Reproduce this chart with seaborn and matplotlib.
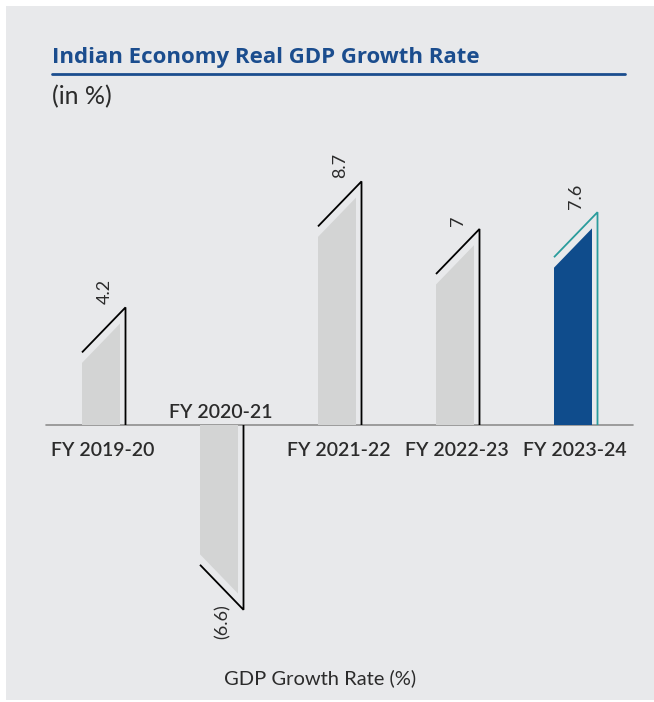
import matplotlib
matplotlib.use("Agg")
import matplotlib.pyplot as plt
import numpy as np
import pandas as pd
import seaborn as sns
from matplotlib.patches import Rectangle, Polygon
from matplotlib.lines import Line2D

# Real GDP growth, India (in %)
years = ["FY 2019-20", "FY 2020-21", "FY 2021-22", "FY 2022-23", "FY 2023-24"]
growth = [4.2, -6.6, 8.7, 7.0, 7.6]
value_labels = ["4.2", "(6.6)", "8.7", "7", "7.6"]
bar_kind = ["past", "past", "past", "past", "latest"]

# colours
PANEL = "#e8e9eb"
GREY_FILL = "#d3d4d4"
NAVY = "#0f4c8c"
TEAL = "#2a9c9c"
TITLE_BLUE = "#1b4d8e"
TEXT = "#2b2b2b"
AXIS = "#8e8e8e"

# canvas geometry (pixels)
W, H = 654, 702
PX_PER_UNIT = 28.0      # vertical pixels per percentage point
X_STEP = 118.0          # pixels between neighbouring bars
X0 = 101.0              # pixel x of the first bar centre
BASE_Y = 425.0          # pixel y (from top) of the zero line
hx = 1.0 / X_STEP       # one pixel in x data units
py = 1.0 / PX_PER_UNIT  # one pixel in y data units

sns.set_theme(style="white")
plt.rcParams["font.family"] = ["Lato", "DejaVu Sans"]

fig = plt.figure(figsize=(W / 100, H / 100), dpi=100)
fig.patch.set_facecolor("white")
fig.patches.append(Rectangle((6 / W, 2 / H), (W - 6) / W, (H - 8) / H,
                             transform=fig.transFigure, facecolor=PANEL,
                             edgecolor="none", zorder=-5))

ax = fig.add_axes([0, 0, 1, 1])
ax.set_zorder(1)
df = pd.DataFrame({"year": years, "growth": growth, "kind": bar_kind})
sns.barplot(data=df, x="year", y="growth", hue="kind",
            palette={"past": GREY_FILL, "latest": NAVY},
            width=0.32, dodge=False, saturation=1, legend=False, ax=ax,
            edgecolor="none", linewidth=0)

ax.set_xlim(-X0 / X_STEP, (W - X0) / X_STEP)
ax.set_ylim((BASE_Y - H) / PX_PER_UNIT, BASE_Y / PX_PER_UNIT)
ax.patch.set_visible(False)
ax.axis("off")

# zero line
ax.axhline(0, xmin=46 / W, xmax=633 / W, color=AXIS, lw=1.2, zorder=1)

HALF = 19.0    # half of the filled bar width (px)
LINE_DX = 24.5  # offset of the outline stroke from the bar centre (px)
SLANT = 45.0   # vertical drop of the slanted cap (px)
GAP = 10.5     # gap between cap stroke and fill (px)

for patch in list(ax.patches):
    i = int(round(patch.get_x() + patch.get_width() / 2))
    v = growth[i]
    s = 1 if v >= 0 else -1
    xl = i - HALF * hx
    xline = i + LINE_DX * hx

    def cap(x):
        return v - s * SLANT * py * (xline - x) / (xline - xl)

    # cut the bar top along a slant parallel to the cap stroke
    a, b = xl - 2 * hx, i + HALF * hx + 2 * hx
    clip = Polygon([(a, -s * 1.0), (a, cap(a) - s * GAP * py),
                    (b, cap(b) - s * GAP * py), (b, -s * 1.0)],
                   closed=True, transform=ax.transData)
    patch.set_clip_path(clip)
    patch.set_zorder(2)

    stroke = TEAL if bar_kind[i] == "latest" else "black"
    ax.plot([xl, xline, xline], [cap(xl), v, 0], color=stroke, lw=1.3,
            solid_joinstyle="miter", solid_capstyle="butt", zorder=3)

    if s > 0:
        ax.text(xline - 21 * hx, v + 3 * py, value_labels[i], rotation=90,
                ha="center", va="bottom", fontsize=13, color=TEXT, zorder=4)
        ax.text(i + 2 * hx, -25 * py, years[i], ha="center", va="center",
                fontsize=14, color=TEXT, fontweight="semibold", zorder=4)
    else:
        ax.text(xline - 21 * hx, v + 6 * py, value_labels[i], rotation=90,
                ha="center", va="top", fontsize=13, color=TEXT, zorder=4)
        ax.text(i + 2 * hx, 13 * py, years[i], ha="center", va="center",
                fontsize=14, color=TEXT, fontweight="semibold", zorder=4)

# heading block
fig.text(52 / W, 1 - 58 / H, "Indian Economy Real GDP Growth Rate",
         ha="left", va="center", fontsize=16, fontweight="bold",
         color=TITLE_BLUE, family=["Open Sans", "DejaVu Sans"])
fig.add_artist(Line2D([52 / W, 625 / W], [1 - 74 / H, 1 - 74 / H],
                      transform=fig.transFigure, color=TITLE_BLUE, lw=2.0))
fig.text(52 / W, 1 - 97 / H, "(in %)", ha="left", va="center",
         fontsize=18, color=TEXT)

fig.text(320 / W, 1 - 678 / H, "GDP Growth Rate (%)", ha="center",
         va="center", fontsize=14.5, color=TEXT)

fig.savefig("out.png", dpi=100, facecolor=fig.get_facecolor())
